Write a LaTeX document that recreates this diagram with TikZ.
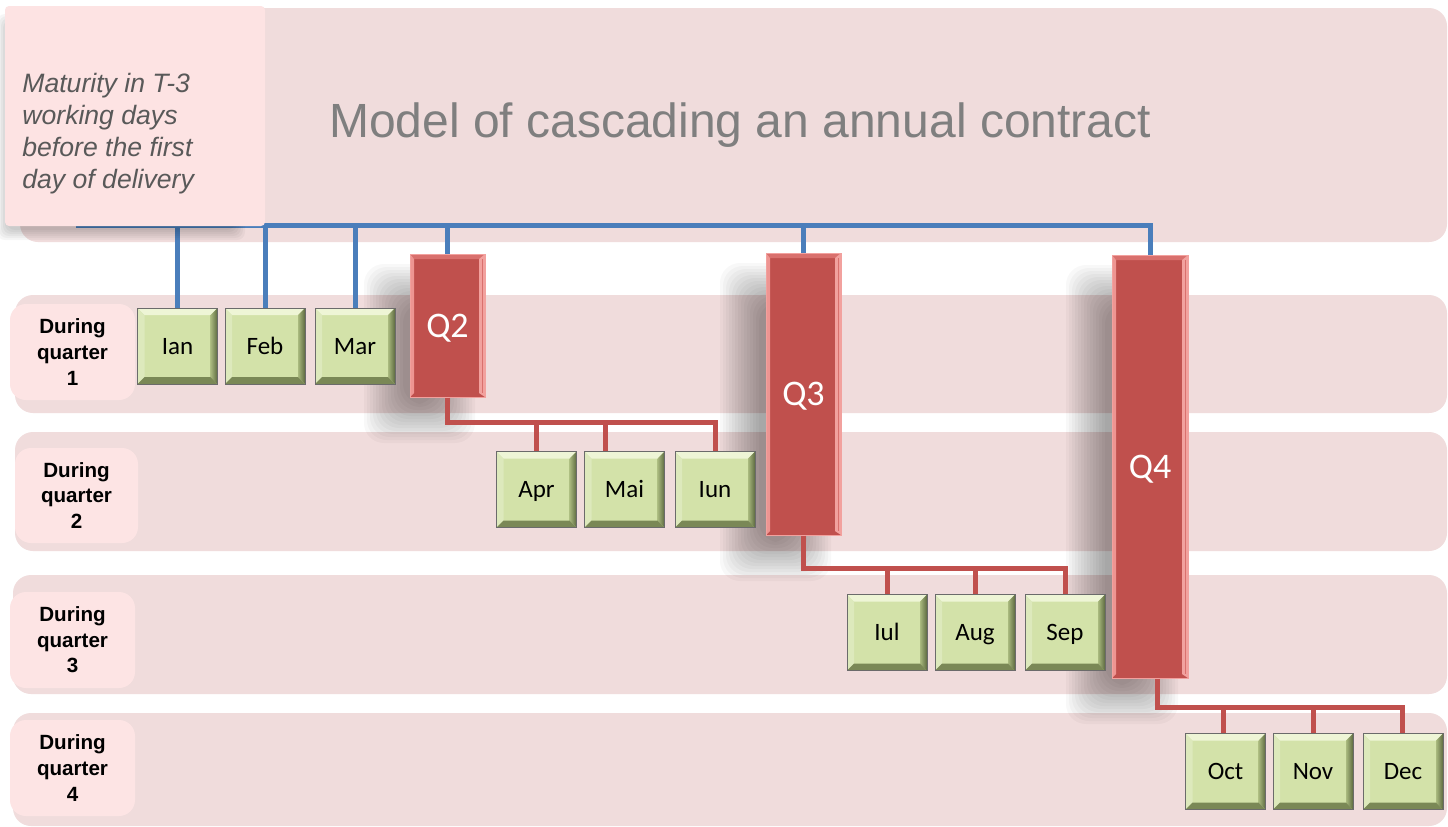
\documentclass[tikz,border=0pt]{standalone}
\usepackage{fontspec}
\setmainfont{Liberation Sans}
\newfontfamily\arialf{Liberation Sans}
\newfontfamily\calf{Carlito}
\definecolor{bandc}{HTML}{F0DCDC}
\definecolor{labc}{HTML}{FDE4E4}
\definecolor{notec}{HTML}{FDE3E3}
\definecolor{bluec}{HTML}{4A7EBB}
\definecolor{redc}{HTML}{C0504D}
\definecolor{mgreen}{HTML}{D3E2A9}
\definecolor{mtop}{HTML}{EEF5D6}
\definecolor{mleft}{HTML}{DDE9BC}
\definecolor{mrightin}{HTML}{A9B97E}
\definecolor{mrightout}{HTML}{5D6A40}
\definecolor{mbot}{HTML}{7A8856}
\definecolor{mborder}{HTML}{6B6B6B}
\definecolor{qleft}{HTML}{EE9592}
\definecolor{qright}{HTML}{F2A19E}
\definecolor{qtop}{HTML}{D9706D}
\definecolor{titlec}{HTML}{7F7F7F}
\definecolor{notetext}{HTML}{595959}
\newcommand\softshadow[4]{%
  \foreach \k in {0,...,13}{%
    \fill[black,opacity=0.026,rounded corners=10pt]
      (#1-46+\k*3,#2+10+\k*3) rectangle (#3-10-\k*3,#4+46-\k*3);}}
\tikzset{
  band/.style={fill=bandc,rounded corners=9pt},
  labbox/.style={fill=labc,rounded corners=8pt},
  labtext/.style={font=\arialf\bfseries\fontsize{10.3}{12.8}\selectfont,align=center,inner sep=0pt},
  bline/.style={draw=bluec,line width=2.5pt},
  rline/.style={draw=redc,line width=2.5pt},
  mbox/.style={draw=mborder,line width=0.5pt,fill=mgreen,minimum width=40pt,minimum height=38pt,inner sep=0pt,
    font=\calf\fontsize{12.5}{14}\selectfont,text height=8pt,text depth=0pt,
    path picture={
      \coordinate (pnw) at (path picture bounding box.north west);
      \coordinate (pne) at (path picture bounding box.north east);
      \coordinate (psw) at (path picture bounding box.south west);
      \coordinate (pse) at (path picture bounding box.south east);
      \fill[mtop] (pnw) -- (pne) -- ([shift={(-3.5pt,-3.5pt)}]pne) -- ([shift={(3.5pt,-3.5pt)}]pnw) -- cycle;
      \fill[mleft] (pnw) -- ([shift={(3.5pt,-3.5pt)}]pnw) -- ([shift={(3.5pt,3.5pt)}]psw) -- (psw) -- cycle;
      \shade[left color=mrightin,right color=mrightout] (pne) -- (pse) -- ([shift={(-3.5pt,3.5pt)}]pse) -- ([shift={(-3.5pt,-3.5pt)}]pne) -- cycle;
      \fill[mbot] (psw) -- (pse) -- ([shift={(-3.5pt,3.5pt)}]pse) -- ([shift={(3.5pt,3.5pt)}]psw) -- cycle;
    }},
  qbox/.style={draw=qright,line width=0.5pt,fill=redc,inner sep=0pt,text=white,
    font=\calf\fontsize{18}{20}\selectfont,text height=11.6pt,text depth=0pt,
    path picture={
      \coordinate (pnw) at (path picture bounding box.north west);
      \coordinate (pne) at (path picture bounding box.north east);
      \coordinate (psw) at (path picture bounding box.south west);
      \coordinate (pse) at (path picture bounding box.south east);
      \fill[qtop] (pnw) -- (pne) -- ([shift={(-3pt,-2.5pt)}]pne) -- ([shift={(2pt,-2.5pt)}]pnw) -- cycle;
      \fill[qleft] (pnw) -- ([shift={(2pt,-2.5pt)}]pnw) -- ([shift={(2pt,2pt)}]psw) -- (psw) -- cycle;
      \fill[qright] (pne) -- (pse) -- ([shift={(-3pt,2pt)}]pse) -- ([shift={(-3pt,-2.5pt)}]pne) -- cycle;
      \draw[qtop,line width=0.4pt] ([shift={(-1.5pt,-2.5pt)}]pne) -- ([shift={(-1.5pt,2pt)}]pse);
    }}
}
\begin{document}
\begin{tikzpicture}[x=0.5pt,y=-0.5pt]
\useasboundingbox[fill=white] (0,0) rectangle (1448,826);
% bands
\fill[band] (20,8) rectangle (1447,242);
\fill[band] (15,295) rectangle (1447,413);
\fill[band] (15,432) rectangle (1447,551);
\fill[band] (13,575) rectangle (1447,694);
\fill[band] (13,713) rectangle (1447,826);
% quarter labels
\fill[labbox] (10,304) rectangle (135,400);
\fill[labbox] (15,448) rectangle (138,543);
\fill[labbox] (10,592) rectangle (135,688);
\fill[labbox] (10,720) rectangle (135,816);
\node[labtext] (l1) at (72.5,352) {During\\quarter\\1};
\node[labtext] (l2) at (76.5,495.5) {During\\quarter\\2};
\node[labtext] (l3) at (72.5,640) {During\\quarter\\3};
\node[labtext] (l4) at (72.5,768) {During\\quarter\\4};
% title
\node[font=\arialf\fontsize{24}{28}\selectfont,text=titlec,anchor=base,inner sep=0pt] (title) at (740,137) {Model of cascading an annual contract};
% shadows of quarter blocks
\softshadow{410}{254}{485}{397}
\softshadow{766}{253}{841}{535}
\softshadow{1112}{255}{1188}{678}
% month boxes
\node[mbox] (ian) at (177.5,346) {Ian};
\node[mbox] (feb) at (265,346) {Feb};
\node[mbox] (mar) at (355,346) {Mar};
\node[mbox] (apr) at (536.5,489.5) {Apr};
\node[mbox] (mai) at (624.5,489.5) {Mai};
\node[mbox] (iun) at (715,489.5) {Iun};
\node[mbox] (iul) at (887,632.5) {Iul};
\node[mbox] (aug) at (975,632.5) {Aug};
\node[mbox] (sep) at (1065,632.5) {Sep};
\node[mbox] (oct) at (1225.5,771.5) {Oct};
\node[mbox] (nov) at (1313,771.5) {Nov};
\node[mbox] (dec) at (1403,771.5) {Dec};
% quarter blocks
\node[qbox,minimum width=37.5pt,minimum height=71.5pt] (q2) at (447.5,325.5) {Q2};
\node[qbox,minimum width=37.5pt,minimum height=141pt] (q3) at (803.5,394) {Q3};
\node[qbox,minimum width=38pt,minimum height=211.5pt] (q4) at (1150,466.5) {Q4};
% blue connectors
\coordinate (bl) at (76,225);
\draw[bline] (bl) -| (q4.north);
\draw[bline] (ian.north |- bl) -- (ian.north);
\draw[bline] (feb.north |- bl) -- (feb.north);
\draw[bline] (mar.north |- bl) -- (mar.north);
\draw[bline] (q2.north |- bl) -- (q2.north);
\draw[bline] (q3.north |- bl) -- (q3.north);
% red connectors
\draw[rline] (q2.south) -- ++(0,25) -| (iun.north);
\draw[rline] (apr.north) -- ++(0,-30);
\draw[rline] ([xshift=-9.5pt]mai.north) -- ++(0,-30);
\draw[rline] (q3.south) -- ++(0,33) -| (sep.north);
\draw[rline] (iul.north) -- ++(0,-27);
\draw[rline] (aug.north) -- ++(0,-27);
\draw[rline] ([xshift=3.5pt]q4.south) -- ++(0,29) -| ([xshift=-0.5pt]dec.north);
\draw[rline] ([xshift=-1pt]oct.north) -- ++(0,-27);
\draw[rline] (nov.north) -- ++(0,-27);
% note box
\foreach \k in {0,...,5}{\fill[black,opacity=0.035,rounded corners=4pt] (-3+\k*2,14+\k*2) rectangle (245-\k*2,240-\k*2);}
\fill[notec,rounded corners=2pt] (5,6) rectangle (265,226);
\node[font=\arialf\itshape\fontsize{13.3}{16}\selectfont,text=notetext,align=left,anchor=west,inner sep=0pt] (note) at (22,134)
  {Maturity in T-3\\working days\\before the first\\day of delivery};
\end{tikzpicture}
\end{document}
